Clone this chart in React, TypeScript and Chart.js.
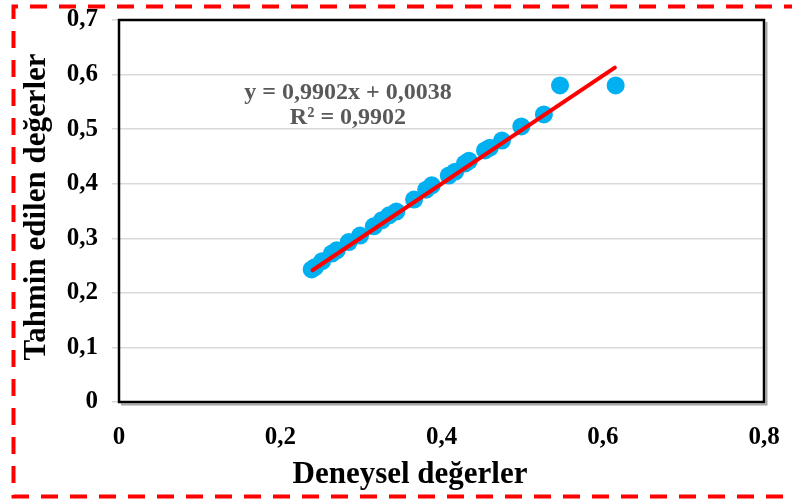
import React, { useEffect, useRef } from 'react';
import { Chart, registerables } from 'chart.js';

Chart.register(...registerables);

// ---- Data ----
const experimental = [
  0.239, 0.243, 0.252, 0.264, 0.270, 0.285, 0.299, 0.316, 0.326, 0.335, 0.344,
  0.366, 0.381, 0.388, 0.409, 0.417, 0.429, 0.434, 0.454, 0.460, 0.475, 0.499,
  0.527, 0.547, 0.616,
];
const predicted = [
  0.243, 0.247, 0.258, 0.272, 0.278, 0.293, 0.305, 0.322, 0.333, 0.342, 0.349,
  0.371, 0.389, 0.397, 0.415, 0.422, 0.437, 0.442, 0.461, 0.466, 0.479, 0.505,
  0.527, 0.580, 0.580,
];
const trendSlope = 0.9902;
const trendIntercept = 0.0038;
const trendRange = [0.24, 0.615];

const xTickLabels = ['0', '0,2', '0,4', '0,6', '0,8'];
const yTickLabels = ['0', '0,1', '0,2', '0,3', '0,4', '0,5', '0,6', '0,7'];
const equationLines = ['y = 0,9902x + 0,0038', 'R² = 0,9902'];
const xTitle = 'Deneysel değerler';
const yTitle = 'Tahmin edilen değerler';

const FONT = '"Liberation Serif", "Times New Roman", serif';

const decorPlugin = {
  id: 'decor',
  beforeDraw(chart: any) {
    const ctx = chart.ctx;
    ctx.save();
    ctx.strokeStyle = '#FF0000';
    ctx.lineWidth = 4;
    ctx.setLineDash([17, 12]);
    ctx.beginPath();
    ctx.moveTo(830, 6.5);
    ctx.lineTo(13.5, 6.5);
    ctx.lineTo(13.5, 496.5);
    ctx.lineTo(830, 496.5);
    ctx.stroke();
    ctx.restore();
  },
  beforeDatasetsDraw(chart: any) {
    const ctx = chart.ctx;
    const { left, right, top, bottom } = chart.chartArea;
    ctx.save();
    ctx.strokeStyle = '#A6A6A6';
    ctx.lineWidth = 2;
    ctx.beginPath();
    ctx.moveTo(left + 2, bottom + 2.5);
    ctx.lineTo(right + 2.5, bottom + 2.5);
    ctx.lineTo(right + 2.5, top + 2);
    ctx.stroke();
    ctx.strokeStyle = '#000000';
    ctx.lineWidth = 2.5;
    ctx.strokeRect(left, top, right - left, bottom - top);
    ctx.restore();
  },
  afterDraw(chart: any) {
    const ctx = chart.ctx;
    const xs = chart.scales.x;
    const ys = chart.scales.y;
    ctx.save();
    // Equation
    ctx.fillStyle = '#595959';
    ctx.font = `bold 24px ${FONT}`;
    ctx.textAlign = 'center';
    ctx.textBaseline = 'alphabetic';
    const cx = xs.getPixelForValue(0.284);
    ctx.fillText(equationLines[0], cx, ys.getPixelForValue(0.555));
    ctx.fillText(equationLines[1], cx, ys.getPixelForValue(0.509));
    // Axis titles
    ctx.fillStyle = '#000000';
    ctx.font = `bold 31px ${FONT}`;
    ctx.fillText(xTitle, 410, 483);
    ctx.translate(45, 207);
    ctx.rotate(-Math.PI / 2);
    ctx.fillText(yTitle, 0, 0);
    ctx.restore();
  },
};

export default function App() {
  const canvasRef = useRef<HTMLCanvasElement | null>(null);

  useEffect(() => {
    if (!canvasRef.current) return;
    const points = experimental.map((x, i) => ({ x, y: predicted[i] }));
    const trend = trendRange.map((x) => ({ x, y: trendSlope * x + trendIntercept }));
    const chart = new Chart(canvasRef.current, {
      type: 'scatter',
      data: {
        datasets: [
          {
            label: 'Trend',
            data: trend,
            showLine: true,
            borderColor: '#FF0000',
            borderWidth: 4,
            pointRadius: 0,
            borderCapStyle: 'round',
            order: 0,
          } as any,
          {
            label: 'Data',
            data: points,
            backgroundColor: '#00B0F0',
            borderWidth: 0,
            pointRadius: 9,
            order: 1,
          },
        ],
      },
      options: {
        responsive: false,
        animation: false,
        events: [],
        layout: { padding: { left: 0, top: 20, right: 28, bottom: 0 } },
        plugins: {
          legend: { display: false },
          tooltip: { enabled: false },
        },
        scales: {
          x: {
            type: 'linear',
            min: 0,
            max: 0.8,
            afterFit: (s: any) => {
              s.height = 102;
              s.paddingLeft = 0;
              s.paddingRight = 0;
            },
            afterBuildTicks: (s: any) => {
              s.ticks = xTickLabels.map((_, i) => ({ value: i * 0.2 }));
            },
            grid: { display: false, drawTicks: false, tickLength: 0 },
            border: { display: false },
            ticks: {
              padding: 21,
              color: '#000000',
              font: { family: FONT, size: 25, weight: 'bold' },
              callback: (_v: any, i: number) => xTickLabels[i],
              maxRotation: 0,
            },
          },
          y: {
            type: 'linear',
            min: 0,
            max: 0.7,
            afterFit: (s: any) => {
              s.width = 119;
              s.paddingTop = 0;
              s.paddingBottom = 0;
            },
            afterBuildTicks: (s: any) => {
              s.ticks = yTickLabels.map((_, i) => ({ value: i * 0.1 }));
            },
            grid: { color: '#D9D9D9', lineWidth: 1.5, tickLength: 7 },
            border: { display: false },
            ticks: {
              padding: 14,
              color: '#000000',
              font: { family: FONT, size: 25, weight: 'bold' },
              callback: (_v: any, i: number) => yTickLabels[i],
            },
          },
        },
      },
      plugins: [decorPlugin],
    });
    return () => chart.destroy();
  }, []);

  return (
    <div style={{ position: 'fixed', left: 0, top: 0, width: 792, height: 504, background: '#FFFFFF' }}>
      <canvas ref={canvasRef} width={792} height={504} />
    </div>
  );
}
